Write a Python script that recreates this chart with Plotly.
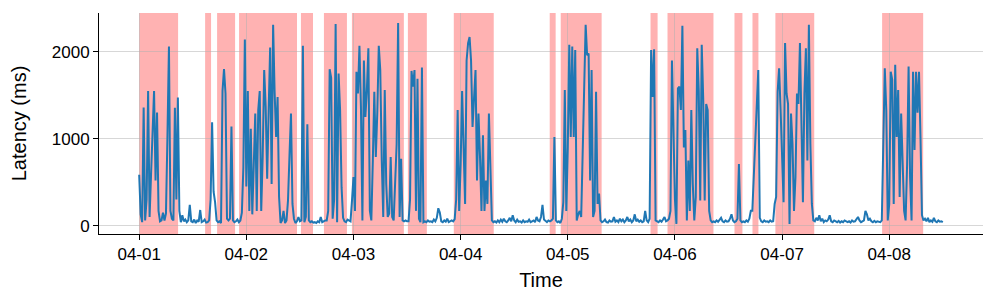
import pandas as pd
import plotly.graph_objects as go

# Latency samples every 20 minutes starting 2024-04-01 00:00
start_time = "2024-04-01 00:00"
sample_freq = "20min"
latency_ms = [
    585, 130, 40, 1360, 60, 300, 1548, 100, 600, 1200,          # 0
    1548, 520, 1300, 170, 50, 60, 150, 60, 140, 1040,          # 10
    2060, 170, 80, 60, 1355, 300, 1475, 170, 40, 120,          # 20
    50, 70, 40, 60, 240, 50, 40, 70, 30, 60,                   # 30
    45, 180, 40, 50, 70, 35, 40, 60, 300, 1190,                # 40
    390, 270, 60, 40, 50, 30, 1550, 1800, 1520, 80,            # 50
    60, 80, 1140, 60, 40, 50, 70, 40, 60, 150,                 # 60
    670, 2140, 450, 1548, 170, 1115, 130, 700, 1290, 170,      # 70
    1330, 1548, 170, 800, 1790, 1370, 540, 1330, 2050, 480,    # 80
    2310, 1540, 1020, 1480, 330, 30, 60, 170, 30, 60,          # 90
    290, 810, 1290, 250, 80, 30, 50, 100, 50, 60,              # 100
    2070, 40, 100, 1165, 60, 40, 50, 35, 40, 30,               # 110
    50, 40, 100, 40, 50, 60, 60, 170, 1800, 1700,              # 120
    80, 300, 2320, 40, 1750, 1330, 440, 90, 50, 40,            # 130
    70, 60, 50, 290, 560, 170, 1770, 1520, 2070, 1370,         # 140
    60, 1900, 1250, 1560, 2040, 170, 60, 750, 1540, 790,       # 150
    1300, 2070, 1790, 750, 100, 1560, 480, 100, 140, 790,      # 160
    100, 60, 500, 940, 2330, 100, 770, 60, 50, 60,             # 170
    50, 50, 300, 1780, 1600, 1790, 170, 1690, 80, 40,          # 180
    1820, 40, 50, 40, 60, 45, 50, 40, 70, 50,                  # 190
    90, 200, 150, 50, 40, 60, 45, 80, 40, 50,                  # 200
    60, 50, 75, 300, 1330, 170, 700, 1548, 800, 250,           # 210
    1900, 2100, 2170, 1900, 1135, 1400, 1790, 520, 1290, 800,  # 220
    170, 1040, 170, 520, 250, 1290, 500, 60, 40, 50,           # 230
    35, 60, 40, 70, 45, 80, 50, 40, 60, 90,                    # 240
    50, 120, 60, 40, 70, 45, 50, 35, 60, 40,                   # 250
    50, 45, 70, 40, 50, 60, 40, 100, 60, 50,                   # 260
    100, 240, 70, 50, 40, 60, 50, 60, 80, 1020,                # 270
    60, 40, 50, 30, 80, 270, 1560, 170, 900, 2080,             # 280
    1020, 2060, 1020, 2020, 60, 130, 170, 100, 750, 1700,      # 290
    2310, 1960, 1980, 520, 1790, 100, 170, 1540, 250, 370,     # 300
    60, 40, 50, 70, 40, 35, 60, 45, 50, 100,                   # 310
    45, 60, 40, 80, 50, 70, 40, 60, 100, 50,                   # 320
    70, 40, 60, 130, 50, 70, 45, 60, 40, 50,                   # 330
    170, 60, 40, 80, 2020, 1480, 2030, 60, 50, 40,             # 340
    60, 45, 70, 100, 50, 60, 80, 170, 1900, 1250,              # 350
    300, 20, 1580, 1600, 1330, 2300, 900, 1100, 60, 750,       # 360
    170, 1330, 480, 60, 330, 2040, 1560, 290, 2080, 1460,      # 370
    290, 1400, 1330, 170, 60, 40, 50, 40, 60, 45,              # 380
    70, 90, 50, 40, 60, 45, 50, 80, 130, 60,                   # 390
    40, 50, 80, 710, 60, 40, 50, 40, 60, 45,                   # 400
    80, 170, 170, 560, 1130, 1480, 1790, 90, 50, 40,           # 410
    60, 45, 50, 40, 60, 45, 50, 250, 330, 1540,                # 420
    1810, 1330, 670, 270, 2100, 1520, 1400, 20, 1290, 940,     # 430
    170, 560, 1520, 1400, 2100, 1140, 270, 1520, 2040, 750,    # 440
    2310, 940, 250, 60, 50, 90, 60, 120, 50, 80,               # 450
    40, 60, 50, 70, 120, 50, 40, 60, 45, 40,                   # 460
    55, 35, 50, 40, 60, 45, 40, 50, 35, 60,                    # 470
    45, 50, 80, 100, 60, 40, 50, 60, 170, 130,                 # 480
    60, 80, 50, 40, 55, 40, 50, 45, 40, 60,                    # 490
    900, 1810, 1330, 60, 250, 1770, 1680, 250, 1850, 1020,     # 500
    1560, 330, 1290, 630, 170, 60, 700, 1830, 560, 60,         # 510
    1770, 870, 1770, 1300, 1770, 1020, 120, 60, 80, 50,        # 520
    90, 40, 60, 45, 90, 50, 40, 60, 45, 50,                    # 530
    40,                                                        # 540
]

# Highlighted (anomaly) windows
span_starts = [
    "2024-04-01 00:00", "2024-04-01 14:46", "2024-04-01 17:27", "2024-04-01 22:22",
    "2024-04-02 12:14", "2024-04-02 17:23", "2024-04-02 23:39", "2024-04-03 12:11",
    "2024-04-03 22:28", "2024-04-04 19:57", "2024-04-04 22:25", "2024-04-05 18:32",
    "2024-04-05 22:20", "2024-04-06 13:20", "2024-04-06 17:22", "2024-04-06 22:30",
    "2024-04-07 22:24",
]
span_ends = [
    "2024-04-01 08:43", "2024-04-01 16:06", "2024-04-01 21:29", "2024-04-02 11:21",
    "2024-04-02 14:56", "2024-04-02 22:32", "2024-04-03 11:17", "2024-04-03 16:26",
    "2024-04-04 07:25", "2024-04-04 21:17", "2024-04-05 07:35", "2024-04-05 20:07",
    "2024-04-06 08:38", "2024-04-06 15:07", "2024-04-06 18:42", "2024-04-07 07:12",
    "2024-04-08 07:36",
]

y_ticks = [0, 1000, 2000]
x_range = ["2024-03-31 15:00", "2024-04-08 21:00"]
y_range = [-96, 2446]

times = pd.date_range(start_time, periods=len(latency_ms), freq=sample_freq)

fig = go.Figure()
for s, e in zip(span_starts, span_ends):
    fig.add_vrect(x0=s, x1=e, fillcolor="rgba(255,0,0,0.3)", line_width=0, layer="below")

fig.add_trace(go.Scatter(
    x=times, y=latency_ms, mode="lines",
    line=dict(color="#1f77b4", width=2),
    showlegend=False, hoverinfo="skip",
))

font_family = "Liberation Sans, Arial, sans-serif"
# the page body adds an 8px offset, so margins are reduced accordingly
fig.update_layout(
    width=997, height=307,
    margin=dict(l=91, r=22, t=5, b=81),
    paper_bgcolor="white", plot_bgcolor="white",
    font=dict(family=font_family, size=17, color="black"),
)
fig.update_xaxes(
    range=x_range, type="date", automargin=False,
    tick0="2024-04-01", dtick=86400000, tickformat="%m-%d",
    showgrid=True, gridcolor="rgba(176,176,176,0.5)", gridwidth=1,
    showline=True, linecolor="black", linewidth=1,
    ticks="outside", ticklen=5, tickcolor="black",
    title=dict(text="Time", standoff=9), zeroline=False,
)
fig.update_yaxes(
    range=y_range, tickvals=y_ticks, automargin=False,
    showgrid=True, gridcolor="rgba(176,176,176,0.5)", gridwidth=1,
    showline=True, linecolor="black", linewidth=1,
    ticks="outside", ticklen=5, tickcolor="black",
    title=dict(text="Latency (ms)", standoff=20), zeroline=False,
)

fig.write_html("out.html")
